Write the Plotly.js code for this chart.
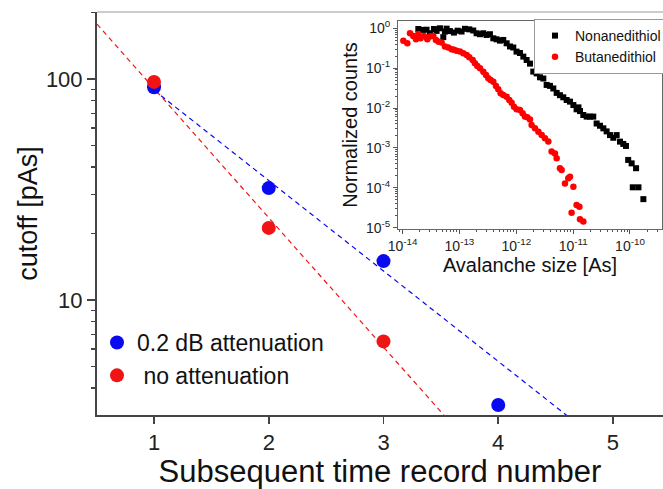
<!DOCTYPE html>
<html><head><meta charset="utf-8">
<script src="https://cdn.plot.ly/plotly-3.0.1.min.js"></script>
<style>html,body{margin:0;padding:0;background:#fff}</style>
</head><body><div id="chart" style="width:663px;height:489px"></div>
<script>
// Main plot data
const recordAtten = [1, 2, 3, 4];
const cutoffAtten = [91.7, 32.1, 15.0, 3.35];
const recordNoAtten = [1, 2, 3];
const cutoffNoAtten = [97, 21.2, 6.5];
// Dashed fit lines (end points)
const fitAttenX = [1, 4.6];
const fitAttenY = [89, 3.0];
const fitNoAttenX = [0.503, 3.53];
const fitNoAttenY = [177, 3.0];
const xTickVals = [1, 2, 3, 4, 5];
const yTickVals = [10, 100];
const yTickText = ['10', '100'];

// Inset data
const nonaX = [1.89e-14,2.25e-14,2.64e-14,3.03e-14,3.56e-14,3.96e-14,4.54e-14,5.2e-14,5.56e-14,5.94e-14,6.8e-14,8.0e-14,9.29e-14,1.09e-13,1.25e-13,1.49e-13,1.75e-13,2.0e-13,2.3e-13,2.63e-13,3.0e-13,3.44e-13,3.94e-13,4.51e-13,5.16e-13,5.9e-13,6.76e-13,7.74e-13,8.85e-13,1.01e-12,1.16e-12,1.33e-12,1.52e-12,1.74e-12,1.99e-12,2.28e-12,2.61e-12,2.99e-12,3.42e-12,3.91e-12,4.48e-12,5.13e-12,5.86e-12,6.71e-12,7.69e-12,8.8e-12,1.01e-11,1.15e-11,1.24e-11,1.32e-11,1.51e-11,1.73e-11,1.98e-11,2.26e-11,2.59e-11,2.97e-11,3.40e-11,3.88e-11,4.45e-11,5.09e-11,5.83e-11,6.67e-11,7.63e-11,8.5e-11,9.3e-11,1.07e-10,1.28e-10,1.12e-10,1.41e-10,1.72e-10];
const nonaY = [0.96,0.91,0.92,0.75,0.96,0.86,1.0,0.60,0.83,0.98,0.85,0.78,0.87,0.83,0.97,0.94,0.88,0.75,0.71,0.75,0.68,0.71,0.56,0.53,0.49,0.51,0.42,0.35,0.33,0.26,0.24,0.195,0.16,0.13,0.082,0.074,0.059,0.055,0.038,0.036,0.031,0.024,0.021,0.0186,0.0159,0.0145,0.0119,0.0093,0.0104,0.0084,0.0067,0.0061,0.0061,0.0061,0.0041,0.0036,0.0031,0.0026,0.0021,0.0018,0.0021,0.00144,0.00126,0.00112,0.00050,0.00041,0.00031,0.000103,0.000103,0.000052];
const butaX = [1.03e-14,1.21e-14,1.35e-14,1.54e-14,1.72e-14,1.89e-14,2.07e-14,2.37e-14,2.72e-14,3.03e-14,3.47e-14,3.86e-14,4.30e-14,4.86e-14,5.56e-14,6.36e-14,7.28e-14,8.0e-14,8.91e-14,1.02e-13,1.17e-13,1.34e-13,1.49e-13,1.71e-13,1.87e-13,2.06e-13,2.30e-13,2.63e-13,2.93e-13,3.22e-13,3.53e-13,3.94e-13,4.39e-13,4.82e-13,5.30e-13,5.90e-13,6.76e-13,7.53e-13,8.28e-13,9.1e-13,1.01e-12,1.16e-12,1.29e-12,1.42e-12,1.56e-12,1.74e-12,1.86e-12,2.13e-12,2.45e-12,2.80e-12,3.19e-12,3.66e-12,4.18e-12,4.79e-12,5.13e-12,5.86e-12,6.28e-12,7.18e-12,8.22e-12,8.8e-12,1.01e-11,1.15e-11,1.29e-11,9.4e-12,1.32e-11,1.51e-11];
const butaY = [0.49,0.42,0.75,0.64,0.53,0.72,0.56,0.64,0.53,0.62,0.64,0.51,0.46,0.44,0.35,0.33,0.30,0.29,0.275,0.26,0.236,0.214,0.187,0.161,0.132,0.1135,0.0993,0.0818,0.0675,0.0557,0.0506,0.0459,0.0358,0.0295,0.0234,0.0213,0.0193,0.0159,0.0136,0.0108,0.0093,0.0089,0.0074,0.0061,0.0059,0.0052,0.00376,0.0031,0.00256,0.00211,0.00174,0.00144,0.00081,0.00073,0.00055,0.00031,0.00028,0.000129,0.000173,0.00019,0.000107,0.000037,0.0000337,0.0000237,0.0000162,0.0000143];
const insetXTickVals = [1e-14, 1e-13, 1e-12, 1e-11, 1e-10];
const insetXTickText = ['10<sup>-14</sup>','10<sup>-13</sup>','10<sup>-12</sup>','10<sup>-11</sup>','10<sup>-10</sup>'];
const insetYTickVals = [1, 1e-1, 1e-2, 1e-3, 1e-4, 1e-5];
const insetYTickText = ['10<sup>0</sup>','10<sup>-1</sup>','10<sup>-2</sup>','10<sup>-3</sup>','10<sup>-4</sup>','10<sup>-5</sup>'];

const FONT = 'Liberation Sans, Arial, sans-serif';
const blue = '#0a0af0';
const red = '#f01414';

const traces = [
  {x: fitNoAttenX, y: fitNoAttenY, mode: 'lines', line: {color: red, width: 1.2, dash: '5px,4px'}, showlegend: false, hoverinfo: 'skip'},
  {x: fitAttenX, y: fitAttenY, mode: 'lines', line: {color: blue, width: 1.2, dash: '5px,4px'}, showlegend: false, hoverinfo: 'skip'},
  {x: recordAtten, y: cutoffAtten, mode: 'markers', name: '0.2 dB attenuation', marker: {color: blue, size: 14}, legend: 'legend'},
  {x: recordNoAtten, y: cutoffNoAtten, mode: 'markers', name: '\u00a0no attenuation', marker: {color: red, size: 14}, legend: 'legend'},
  {x: nonaX, y: nonaY, xaxis: 'x2', yaxis: 'y2', mode: 'markers', name: 'Nonanedithiol', marker: {color: '#000', size: 6, symbol: 'square'}, legend: 'legend2'},
  {x: butaX, y: butaY, xaxis: 'x2', yaxis: 'y2', mode: 'markers', name: 'Butanedithiol', marker: {color: '#f00', size: 6.5, symbol: 'circle'}, legend: 'legend2'}
];

const layout = {
  width: 663, height: 489,
  margin: {l: 97, r: 0, t: 12, b: 74, autoexpand: false},
  paper_bgcolor: '#fff', plot_bgcolor: '#fff',
  font: {family: FONT, color: '#222'},
  showlegend: true,
  xaxis: {
    range: [0.503, 5.436], tickvals: xTickVals, ticks: 'outside', ticklen: 7, tickwidth: 1.5, tickcolor: '#444',
    showline: true, linecolor: '#444', linewidth: 2, showgrid: false, zeroline: false, automargin: false,
    tickfont: {size: 22, color: '#222'},
    title: {text: 'Subsequent time record number', font: {size: 31, color: '#111'}, standoff: 6}
  },
  yaxis: {
    type: 'log', range: [0.48, 2.303], tickvals: yTickVals, ticktext: yTickText,
    ticks: 'outside', ticklen: 8, tickwidth: 1.5, tickcolor: '#444',
    minor: {dtick: 'D1', ticks: 'outside', ticklen: 4, tickwidth: 1.2, tickcolor: '#444', showgrid: false},
    showline: true, linecolor: '#444', linewidth: 2, showgrid: false, zeroline: false, automargin: false,
    tickfont: {size: 22, color: '#222'},
    title: {text: 'cutoff [pAs]', font: {size: 27, color: '#111'}, standoff: 0}
  },
  xaxis2: {
    type: 'log', domain: [0.5318, 0.9982], anchor: 'y2', range: [-14.081, -9.437],
    tickvals: insetXTickVals, ticktext: insetXTickText, ticks: 'outside', ticklen: 4, tickcolor: '#555',
    minor: {dtick: 'D1', ticks: 'outside', ticklen: 2, tickcolor: '#555', showgrid: false},
    showline: true, mirror: true, linecolor: '#666', linewidth: 1, showgrid: false, zeroline: false, automargin: false,
    tickfont: {size: 14, color: '#222'},
    title: {text: 'Avalanche size [As]', font: {size: 20, color: '#111'}, standoff: 1}
  },
  yaxis2: {
    type: 'log', domain: [0.4615, 0.9777], anchor: 'x2', range: [-5.033, 0.183],
    tickvals: insetYTickVals, ticktext: insetYTickText, ticks: 'outside', ticklen: 4, tickcolor: '#555',
    minor: {dtick: 'D1', ticks: 'outside', ticklen: 2, tickcolor: '#555', showgrid: false},
    showline: true, mirror: true, linecolor: '#666', linewidth: 1, showgrid: false, zeroline: false, automargin: false,
    tickfont: {size: 14, color: '#222'},
    title: {text: 'Normalized counts', font: {size: 20, color: '#111'}, standoff: 2}
  },
  legend: {
    x: 0.0, y: (415 - 321) / 403, xanchor: 'left', yanchor: 'top',
    bgcolor: 'rgba(0,0,0,0)', borderwidth: 0, font: {size: 23, color: '#111'}, tracegroupgap: 0
  },
  legend2: {
    x: (534 - 97) / 566, y: (415 - 19) / 403, xanchor: 'left', yanchor: 'top',
    bgcolor: '#fff', bordercolor: '#999', borderwidth: 1, font: {size: 14, color: '#111'}, tracegroupgap: 0
  },
  shapes: [
    {type: 'line', xref: 'paper', yref: 'paper', x0: 0, x1: 1, y0: 1, y1: 1, line: {color: '#999', width: 1}}
  ]
};

Plotly.newPlot('chart', traces, layout, {displayModeBar: false, staticPlot: true});
</script>
</body></html>
